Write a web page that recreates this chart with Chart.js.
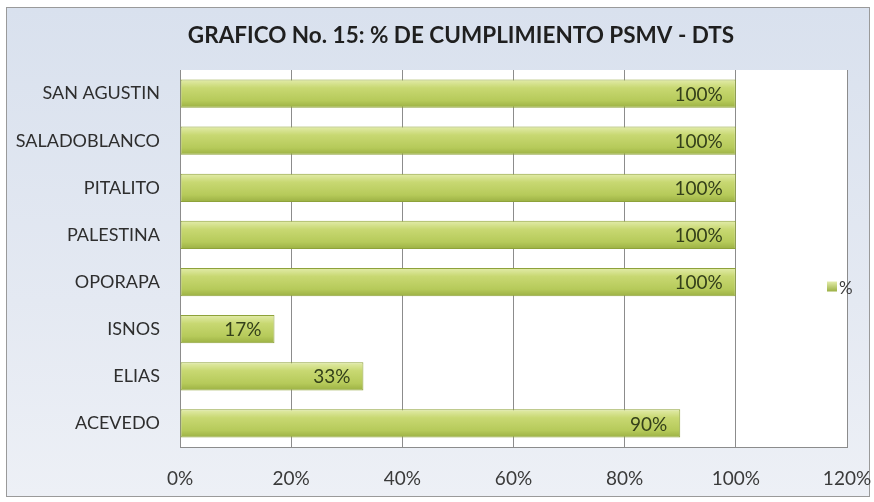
<!DOCTYPE html>
<html>
<head>
<meta charset="utf-8">
<script src="https://cdn.jsdelivr.net/npm/chart.js@4"></script>
<style>
  html, body { margin: 0; padding: 0; background: #fff; overflow: hidden; }
  #frame {
    position: absolute; left: 6px; top: 7px; width: 862px; height: 488px;
    border: 1px solid #9a9a9a;
    background: linear-gradient(180deg, #d9e1ee 0%, #e4e9f2 60%, #edf0f6 100%);
  }
  canvas { display: block; position: absolute; left: 0; top: 0; }
</style>
</head>
<body>
<div id="frame"><canvas id="c" width="866" height="488"></canvas></div>
<script>
// municipios, bottom to top as in the source sheet
const categories = ["ACEVEDO", "ELIAS", "ISNOS", "OPORAPA", "PALESTINA", "PITALITO", "SALADOBLANCO", "SAN AGUSTIN"];
const cumplimiento = [90, 33, 17, 100, 100, 100, 100, 100];
const seriesName = "%";
const chartTitle = "GRAFICO No. 15: % DE CUMPLIMIENTO PSMV - DTS";
const xTicks = [0, 20, 40, 60, 80, 100, 120];

const FONT = "Lato, 'Open Sans', sans-serif";
const BAR_PCT = 0.6;

// vertical gradient for one bar, worked out from the category scale
function barFill(c) {
  const ys = c.chart.scales.y;
  if (!ys || c.dataIndex == null) return "#bfd263";
  const yc = ys.getPixelForValue(c.dataIndex);
  const h = (ys.height / categories.length) * BAR_PCT;
  if (!Number.isFinite(yc) || !Number.isFinite(h) || h <= 0) return "#bfd263";
  const g = c.chart.ctx.createLinearGradient(0, yc - h / 2, 0, yc + h / 2);
  g.addColorStop(0, "#e3ecab");
  g.addColorStop(0.3, "#c8d872");
  g.addColorStop(0.75, "#b6ca5a");
  g.addColorStop(1, "#9bb043");
  return g;
}

// white plot area behind the bars + title (Excel centres it a bit right of the canvas middle)
const plotBg = {
  id: "plotBg",
  beforeDraw(chart) {
    const { ctx, chartArea: a } = chart;
    ctx.save();
    ctx.fillStyle = "#ffffff";
    ctx.fillRect(a.left, a.top, a.right - a.left, a.bottom - a.top);
    ctx.font = "bold 22.5px " + FONT;
    ctx.fillStyle = "#1f1f1f";
    ctx.textAlign = "center";
    ctx.textBaseline = "middle";
    ctx.fillText(chartTitle, 454, 28);
    ctx.restore();
  },
};

// value labels inside the bar end
const valueLabels = {
  id: "valueLabels",
  afterDatasetsDraw(chart) {
    const { ctx } = chart;
    const meta = chart.getDatasetMeta(0);
    ctx.save();
    ctx.font = "19px " + FONT;
    ctx.fillStyle = "#34401a";
    ctx.textAlign = "right";
    ctx.textBaseline = "middle";
    meta.data.forEach((el, i) => {
      ctx.fillText(cumplimiento[i] + "%", el.x - 13, el.y + 1);
    });
    ctx.restore();
  },
};

// small legend sitting at the right edge of the plot
const sideLegend = {
  id: "sideLegend",
  afterDraw(chart) {
    const { ctx, chartArea: a } = chart;
    const x = a.right - 20, y = (a.top + a.bottom) / 2 + 28;
    ctx.save();
    const g = ctx.createLinearGradient(0, y - 5, 0, y + 5);
    g.addColorStop(0, "#e3ecab");
    g.addColorStop(1, "#9bb043");
    ctx.fillStyle = g;
    ctx.fillRect(x, y - 5, 10, 10);
    ctx.font = "17px " + FONT;
    ctx.fillStyle = "#3c3c3c";
    ctx.textBaseline = "middle";
    ctx.fillText(seriesName, x + 12, y + 2);
    ctx.restore();
  },
};

new Chart(document.getElementById("c"), {
  type: "bar",
  data: {
    labels: categories,
    datasets: [{
      label: seriesName,
      data: cumplimiento,
      backgroundColor: barFill,
      borderColor: "#8ea23a",
      borderWidth: 1,
      borderSkipped: false,
      barPercentage: BAR_PCT,
      categoryPercentage: 1,
    }],
  },
  options: {
    indexAxis: "y",
    responsive: false,
    animation: false,
    layout: { padding: { left: 0, right: 26, top: 62, bottom: 0 } },
    plugins: {
      legend: { display: false },
      tooltip: { enabled: false },
      title: { display: false },
    },
    scales: {
      x: {
        min: 0, max: 120,
        afterBuildTicks: (s) => { s.ticks = xTicks.map((v) => ({ value: v })); },
        afterFit: (s) => { s.height = 49; s.paddingLeft = 0; s.paddingRight = 0; },
        ticks: {
          callback: (v) => v + "%",
          color: "#3a3a3a",
          font: { family: FONT, size: 19 },
          padding: 20,
        },
        grid: { color: "#8c8c8c", lineWidth: 1, drawTicks: false },
        border: { color: "#8c8c8c" },
      },
      y: {
        reverse: true,
        afterFit: (s) => { s.width = 173; s.paddingTop = 0; s.paddingBottom = 0; },
        ticks: {
          color: "#2e2e2e",
          font: { family: FONT, size: 18 },
          padding: 20,
        },
        grid: { display: false, drawTicks: false },
        border: { color: "#8c8c8c" },
      },
    },
  },
  plugins: [plotBg, valueLabels, sideLegend],
});
</script>
</body>
</html>
